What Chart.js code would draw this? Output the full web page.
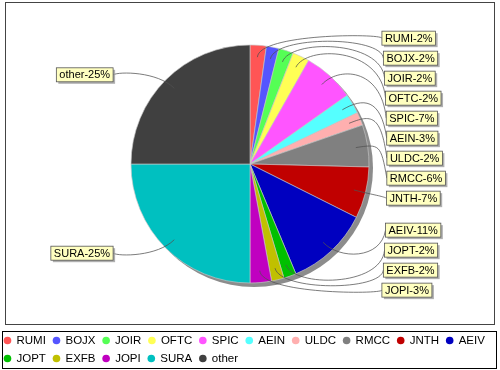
<!DOCTYPE html>
<html>
<head>
<meta charset="utf-8">
<script src="https://cdn.jsdelivr.net/npm/chart.js@4.4.1/dist/chart.umd.min.js"></script>
<style>
  html, body { margin: 0; padding: 0; background: #ffffff; }
  #wrap { width: 500px; height: 370px; }
</style>
</head>
<body>
<div id="wrap"><canvas id="c" width="500" height="370"></canvas></div>
<script>
// ---- data ----
const categories = ['RUMI','BOJX','JOIR','OFTC','SPIC','AEIN','ULDC','RMCC','JNTH','AEIV','JOPT','EXFB','JOPI','SURA','other'];
const shares     = [2.2, 1.7, 2.0, 2.3, 7.0, 2.7, 1.8, 5.7, 7.0, 11.3, 1.7, 1.7, 2.9, 25.0, 25.0];
const sliceColors = ['#FF5555','#5555FF','#55FF55','#FFFF55','#FF55FF','#55FFFF','#FFAFAF','#808080',
                     '#C00000','#0000C0','#00C000','#C0C000','#C000C0','#00C0C0','#404040'];

const total = shares.reduce((a, b) => a + b, 0);
const labelTexts = categories.map((c, i) => c + '-' + Math.round(shares[i] / total * 100) + '%');

const LABEL_FONT = '11px "Liberation Sans", Arial, sans-serif';
const LEGEND_FONT = '11.5px "Liberation Sans", Arial, sans-serif';

// frame + legend box background
const framePlugin = {
  id: 'frame',
  beforeDraw(chart) {
    const ctx = chart.ctx;
    ctx.save();
    ctx.fillStyle = '#ffffff';
    ctx.fillRect(0, 0, chart.width, chart.height);
    ctx.strokeStyle = '#444444';
    ctx.lineWidth = 1;
    ctx.strokeRect(5.5, 2.5, 489, 322);
    ctx.strokeStyle = '#000000';
    ctx.strokeRect(2.5, 331.5, 494, 37);
    ctx.restore();
  }
};

// pie shadow
const shadowPlugin = {
  id: 'pieShadow',
  beforeDatasetsDraw(chart) {
    const arc = chart.getDatasetMeta(0).data[0];
    if (!arc) return;
    const ctx = chart.ctx;
    ctx.save();
    ctx.fillStyle = '#8c8c8c';
    ctx.beginPath();
    ctx.arc(arc.x + 4, arc.y + 4, arc.outerRadius, 0, Math.PI * 2);
    ctx.fill();
    ctx.restore();
  }
};

// labels with cubic links
const labelPlugin = {
  id: 'pieLabels',
  afterDatasetsDraw(chart) {
    const meta = chart.getDatasetMeta(0);
    const arcs = meta.data;
    if (!arcs.length) return;
    const cx = arcs[0].x, cy = arcs[0].y, R = arcs[0].outerRadius;
    const Rl = R * 1.06, Re = R * 1.1, Rk = R * 0.9, step = 20;
    const ctx = chart.ctx;
    ctx.save();
    ctx.font = LABEL_FONT;
    const recs = arcs.map((a, i) => {
      const mid = (a.startAngle + a.endAngle) / 2;
      return { i, mid, right: Math.cos(mid) >= 0, ideal: cy + Rl * Math.sin(mid) };
    });
    [true, false].forEach(side => {
      const list = recs.filter(r => r.right === side).sort((a, b) => a.ideal - b.ideal);
      let prev = -Infinity;
      list.forEach(r => { r.y = Math.max(r.ideal, prev + step, cy - Rl); prev = r.y; });
      let next = Infinity;
      for (let k = list.length - 1; k >= 0; k--) {
        const r = list[k];
        r.y = Math.min(r.y, next - step, cy + Rl);
        next = r.y;
      }
    });
    recs.forEach(r => {
      const dy = (r.y - cy) / Rl;
      const sgn = r.right ? 1 : -1;
      const off = Re + 1 + 5 * (1 - dy * dy) + (r.right ? 0 : 2.5);
      const tx = cx + sgn * off;
      const ty = r.y;
      const ex = cx + Re * Math.cos(r.mid), ey = cy + Re * Math.sin(r.mid);
      const ax = cx + sgn * Re;
      const lx = cx + Rk * Math.cos(r.mid), ly = cy + Rk * Math.sin(r.mid);
      ctx.strokeStyle = '#505050';
      ctx.lineWidth = 0.75;
      ctx.beginPath();
      ctx.moveTo(tx, ty);
      ctx.bezierCurveTo(ax, ey, ex, ey, lx, ly);
      ctx.stroke();
      const text = labelTexts[r.i];
      const w = ctx.measureText(text).width + 6;
      const h = 14;
      const bx = r.right ? tx : tx - w;
      const by = ty - h / 2;
      ctx.fillStyle = 'rgba(150,150,150,0.75)';
      ctx.fillRect(bx + 2, by + 2, w, h);
      ctx.fillStyle = '#FFFFC0';
      ctx.fillRect(bx, by, w, h);
      ctx.strokeStyle = '#555555';
      ctx.lineWidth = 0.8;
      ctx.strokeRect(bx, by, w, h);
      ctx.fillStyle = '#000000';
      ctx.textBaseline = 'middle';
      ctx.textAlign = 'left';
      ctx.fillText(text, bx + 3, ty + 0.5);
    });
    ctx.restore();
  }
};

// legend
const legendPlugin = {
  id: 'boxLegend',
  afterDraw(chart) {
    const ctx = chart.ctx;
    ctx.save();
    ctx.font = LEGEND_FONT;
    ctx.textBaseline = 'middle';
    ctx.textAlign = 'left';
    let x = 3.5, y = 340.5;
    const rowH = 18, maxX = 496;
    categories.forEach((c, i) => {
      const tw = ctx.measureText(c).width;
      const itemW = 12 + tw;
      if (x + itemW > maxX) { x = 3.5; y += rowH; }
      ctx.fillStyle = sliceColors[i];
      ctx.beginPath();
      ctx.arc(x + 4, y, 3.8, 0, Math.PI * 2);
      ctx.fill();
      ctx.fillStyle = '#000000';
      ctx.fillText(c, x + 13, y + 0.5);
      x += 13 + tw + 6.6;
    });
    ctx.restore();
  }
};

new Chart(document.getElementById('c'), {
  type: 'pie',
  data: {
    labels: categories,
    datasets: [{
      data: shares,
      backgroundColor: sliceColors,
      borderColor: 'rgba(200,200,200,0.8)',
      borderWidth: 0.8,
      hoverOffset: 0,
      radius: 119
    }]
  },
  options: {
    responsive: false,
    devicePixelRatio: 1,
    animation: false,
    layout: { padding: { top: 20, bottom: 62, left: 0, right: 0 } },
    plugins: {
      legend: { display: false },
      tooltip: { enabled: false }
    }
  },
  plugins: [framePlugin, shadowPlugin, labelPlugin, legendPlugin]
});
</script>
</body>
</html>
